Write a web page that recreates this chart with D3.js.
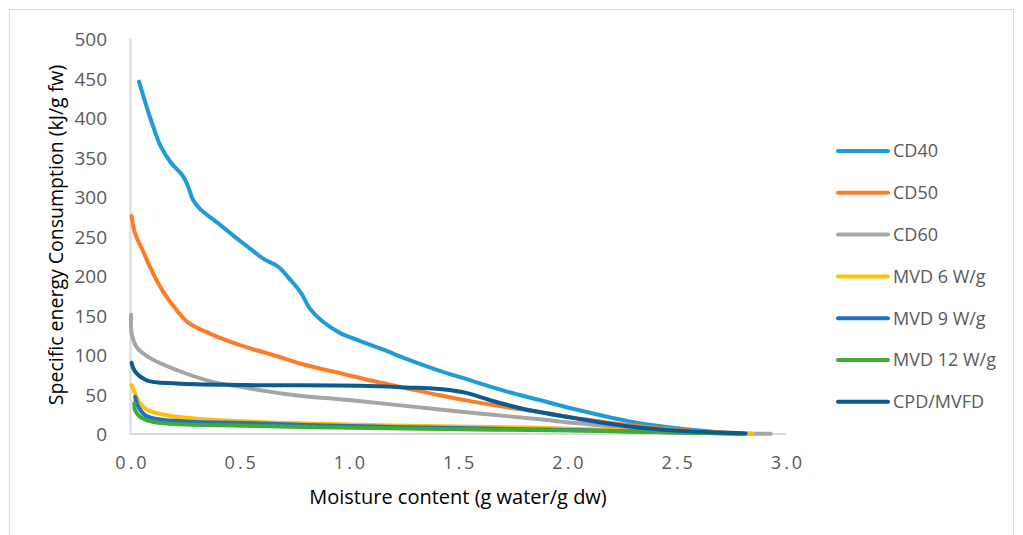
<!DOCTYPE html>
<html><head><meta charset="utf-8">
<script src="https://cdn.jsdelivr.net/npm/d3@7"></script>
<style>
body{margin:0;background:#fff;}
svg{display:block;}
text{font-family:"Open Sans","Liberation Sans",sans-serif;}
</style></head>
<body><svg id="c" width="1023" height="535"></svg>
<script>
const seriesNames = ["CD40","CD50","CD60","MVD 6 W/g","MVD 9 W/g","MVD 12 W/g","CPD/MVFD"];
const seriesColors = ["#1f9bd8","#fb7d26","#a5a5a5","#ffc000","#2072c4","#41ab3a","#0b5a90"];

const cd40X = [0.039,0.074,0.104,0.135,0.181,0.241,0.264,0.287,0.318,0.409,0.485,0.546,0.607,0.675,0.729,0.782,0.820,0.881,0.958,1.049,1.155,1.262,1.415,1.567,1.719,1.872,2.054,2.283,2.511,2.664,2.80];
const cd40Y = [446,414,389,366,345,326,313,296,285,265,248,235,222,212,196,178,159,142,128,118,107,95,80,67,54,43,30,16,7,3,0.5];

const cd50X = [0.005,0.021,0.058,0.104,0.150,0.211,0.264,0.348,0.455,0.577,0.653,0.805,0.958,1.110,1.262,1.415,1.567,1.719,1.872,2.0,2.2,2.4,2.6,2.8];
const cd50Y = [276,254,231,203,180,157,141,129,117,106,100,87,77,67,58,49,41,34,28,22,14,8,3.5,0.8];

const cd60X = [0.003,0.005,0.028,0.09,0.211,0.363,0.516,0.745,1.0,1.415,1.597,1.872,2.054,2.511,2.93];
const cd60Y = [151,128,110,96,81,67,59,49.4,43,31,26,18.6,13.5,3,0.3];

const mvd6X = [0.005,0.021,0.043,0.081,0.158,0.28,0.52,1.0,1.5,1.87,2.2,2.5,2.845];
const mvd6Y = [62,51,39,30,24,20,16,12,9.5,8,5,2.5,0.5];

const mvd9X = [0.021,0.036,0.066,0.127,0.28,0.523,1.0,1.5,2.0,2.5,2.8];
const mvd9Y = [47,34.5,24,18.6,15.6,14,10,7.5,5,2,0.5];

const mvd12X = [0.017,0.021,0.043,0.097,0.203,0.523,1.0,1.5,2.0,2.5,2.8];
const mvd12Y = [39,30,22,15.6,12.7,10.5,8,6,4.5,2,0.3];

const cpdX = [0.005,0.021,0.074,0.211,0.516,1.049,1.262,1.415,1.537,1.643,1.795,2.054,2.283,2.511,2.815];
const cpdY = [90,79,68,64,62,61,59,57,52,43,32,19,9.5,4,0.6];

const xTicks = [0,0.5,1.0,1.5,2.0,2.5,3.0];
const yTicks = [0,50,100,150,200,250,300,350,400,450,500];

const allX = [cd40X,cd50X,cd60X,mvd6X,mvd9X,mvd12X,cpdX];
const allY = [cd40Y,cd50Y,cd60Y,mvd6Y,mvd9Y,mvd12Y,cpdY];

const svg = d3.select("#c");
svg.append("rect").attr("x",9.5).attr("y",9.5).attr("width",1004).attr("height",540)
  .attr("fill","#fff").attr("stroke","#d9d9d9").attr("stroke-width",1);

const x = d3.scaleLinear().domain([0,3]).range([130.5,786]);
const y = d3.scaleLinear().domain([0,500]).range([434,39]);

// axes lines
svg.append("line").attr("x1",x(0)).attr("x2",x(0)).attr("y1",y(500)).attr("y2",y(0))
  .attr("stroke","#d9d9d9").attr("stroke-width",2);
svg.append("line").attr("x1",x(0)-1).attr("x2",x(3)).attr("y1",y(0)).attr("y2",y(0))
  .attr("stroke","#d9d9d9").attr("stroke-width",2);

const yAxis = d3.axisLeft(y).tickValues(yTicks).tickSize(0).tickPadding(0).tickFormat(d3.format("d"));
const gy = svg.append("g").attr("transform","translate(107,0)").call(yAxis);
gy.select(".domain").remove();
gy.selectAll("text").attr("fill","#595959").style("font-size","19px").attr("dy","0.35em");

const xAxis = d3.axisBottom(x).tickValues(xTicks).tickSize(0).tickPadding(0).tickFormat(d3.format(".1f"));
const gx = svg.append("g").attr("transform","translate(0,463)").call(xAxis);
gx.select(".domain").remove();
gx.selectAll("text").attr("fill","#595959").style("font-size","18px").style("letter-spacing","3px")
  .attr("dy","0.35em").attr("dx","1.5px");

// titles
svg.append("text").attr("transform","translate(56,235) rotate(-90)").attr("text-anchor","middle")
  .attr("dy","0.35em").style("font-size","19.5px").attr("fill","#000")
  .text("Specific energy Consumption (kJ/g fw)");
svg.append("text").attr("x",458).attr("y",497).attr("text-anchor","middle").attr("dy","0.35em")
  .style("font-size","20px").attr("fill","#000").text("Moisture content (g water/g dw)");

// lines
const line = d3.line().x(d=>x(d[0])).y(d=>y(d[1])).curve(d3.curveCatmullRom.alpha(0.5));
seriesNames.forEach((n,i)=>{
  const pts = allX[i].map((v,j)=>[v,allY[i][j]]);
  svg.append("path").datum(pts).attr("d",line).attr("fill","none")
    .attr("stroke",seriesColors[i]).attr("stroke-width",4).attr("stroke-linecap","round")
    .attr("stroke-linejoin","round");
});

// legend
const lg = svg.append("g");
seriesNames.forEach((n,i)=>{
  const yy = 151 + i*41.8;
  lg.append("line").attr("x1",838).attr("x2",888).attr("y1",yy).attr("y2",yy)
    .attr("stroke",seriesColors[i]).attr("stroke-width",4).attr("stroke-linecap","round");
  lg.append("text").attr("x",893).attr("y",yy).attr("dy","0.35em").style("font-size","18px")
    .attr("fill","#595959").text(n);
});
</script></body></html>
